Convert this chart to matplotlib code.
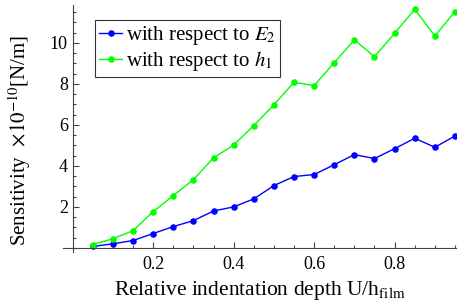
import matplotlib
matplotlib.use("Agg")
import matplotlib.pyplot as plt
from matplotlib.ticker import MultipleLocator

# data
depth = [0.05, 0.10, 0.15, 0.20, 0.25, 0.30, 0.35, 0.40, 0.45, 0.50,
         0.55, 0.60, 0.65, 0.70, 0.75, 0.80, 0.85, 0.90, 0.95]
sens_E2 = [0.07, 0.20, 0.36, 0.70, 1.04, 1.33, 1.80, 2.00, 2.39, 3.04,
           3.48, 3.58, 4.06, 4.55, 4.36, 4.84, 5.35, 4.91, 5.46]
sens_h1 = [0.16, 0.45, 0.84, 1.77, 2.55, 3.33, 4.39, 5.02, 5.97, 6.98,
           8.08, 7.92, 9.04, 10.15, 9.33, 10.47, 11.64, 10.34, 11.53]
yticks = [2, 4, 6, 8, 10]
xticks = [0.2, 0.4, 0.6, 0.8]

plt.rcParams['font.family'] = ['Liberation Serif', 'DejaVu Serif']
plt.rcParams['mathtext.fontset'] = 'stix'

fig = plt.figure(figsize=(4.57, 3.05), dpi=100)
ax = fig.add_axes([63 / 457, 1 - 252 / 305, 1 - 63 / 457, (252 - 5) / 305])

ax.plot(depth, sens_E2, color=(0, 0, 1), lw=1, marker='o', ms=3.7,
        label='with respect to $E_2$')
ax.plot(depth, sens_h1, color=(0, 1, 0), lw=1, marker='o', ms=3.7,
        label='with respect to $h_1$')

ax.set_xlim(-0.024, 0.955)
ax.set_ylim(-0.2, 11.85)

ax.spines['left'].set_position(('data', 0))
ax.spines['bottom'].set_position(('data', 0))
ax.spines['top'].set_visible(False)
ax.spines['right'].set_visible(False)
for s in ('left', 'bottom'):
    ax.spines[s].set_color('#444444')
    ax.spines[s].set_linewidth(0.8)

ax.set_xticks(xticks)
ax.set_yticks(yticks)
ax.xaxis.set_minor_locator(MultipleLocator(0.05))
ax.yaxis.set_minor_locator(MultipleLocator(0.5))
ax.tick_params(which='both', direction='in', color='#444444', width=0.8,
               labelsize=13)
ax.tick_params(which='major', length=4)
ax.tick_params(which='minor', length=2.5)
ax.tick_params(axis='x', pad=6)

ax.set_xlabel('Relative indentation depth U/h$_{\\mathrm{film}}$', fontsize=15.5)
ax.xaxis.set_label_coords(0.5, -0.11)
ax.set_ylabel('Sensitivity  $\\times10^{-10}$[N/m]', fontsize=15)
ax.yaxis.set_label_coords(-0.075, 0.453)

leg = ax.legend(loc='upper left', bbox_to_anchor=(0.081, 0.94), fontsize=15,
                frameon=True, fancybox=False, handlelength=1.1,
                handletextpad=0.2, borderpad=0.2, labelspacing=0.1,
                borderaxespad=0)
leg.get_frame().set_edgecolor('black')
leg.get_frame().set_linewidth(0.8)

fig.savefig('out.png', dpi=100)
